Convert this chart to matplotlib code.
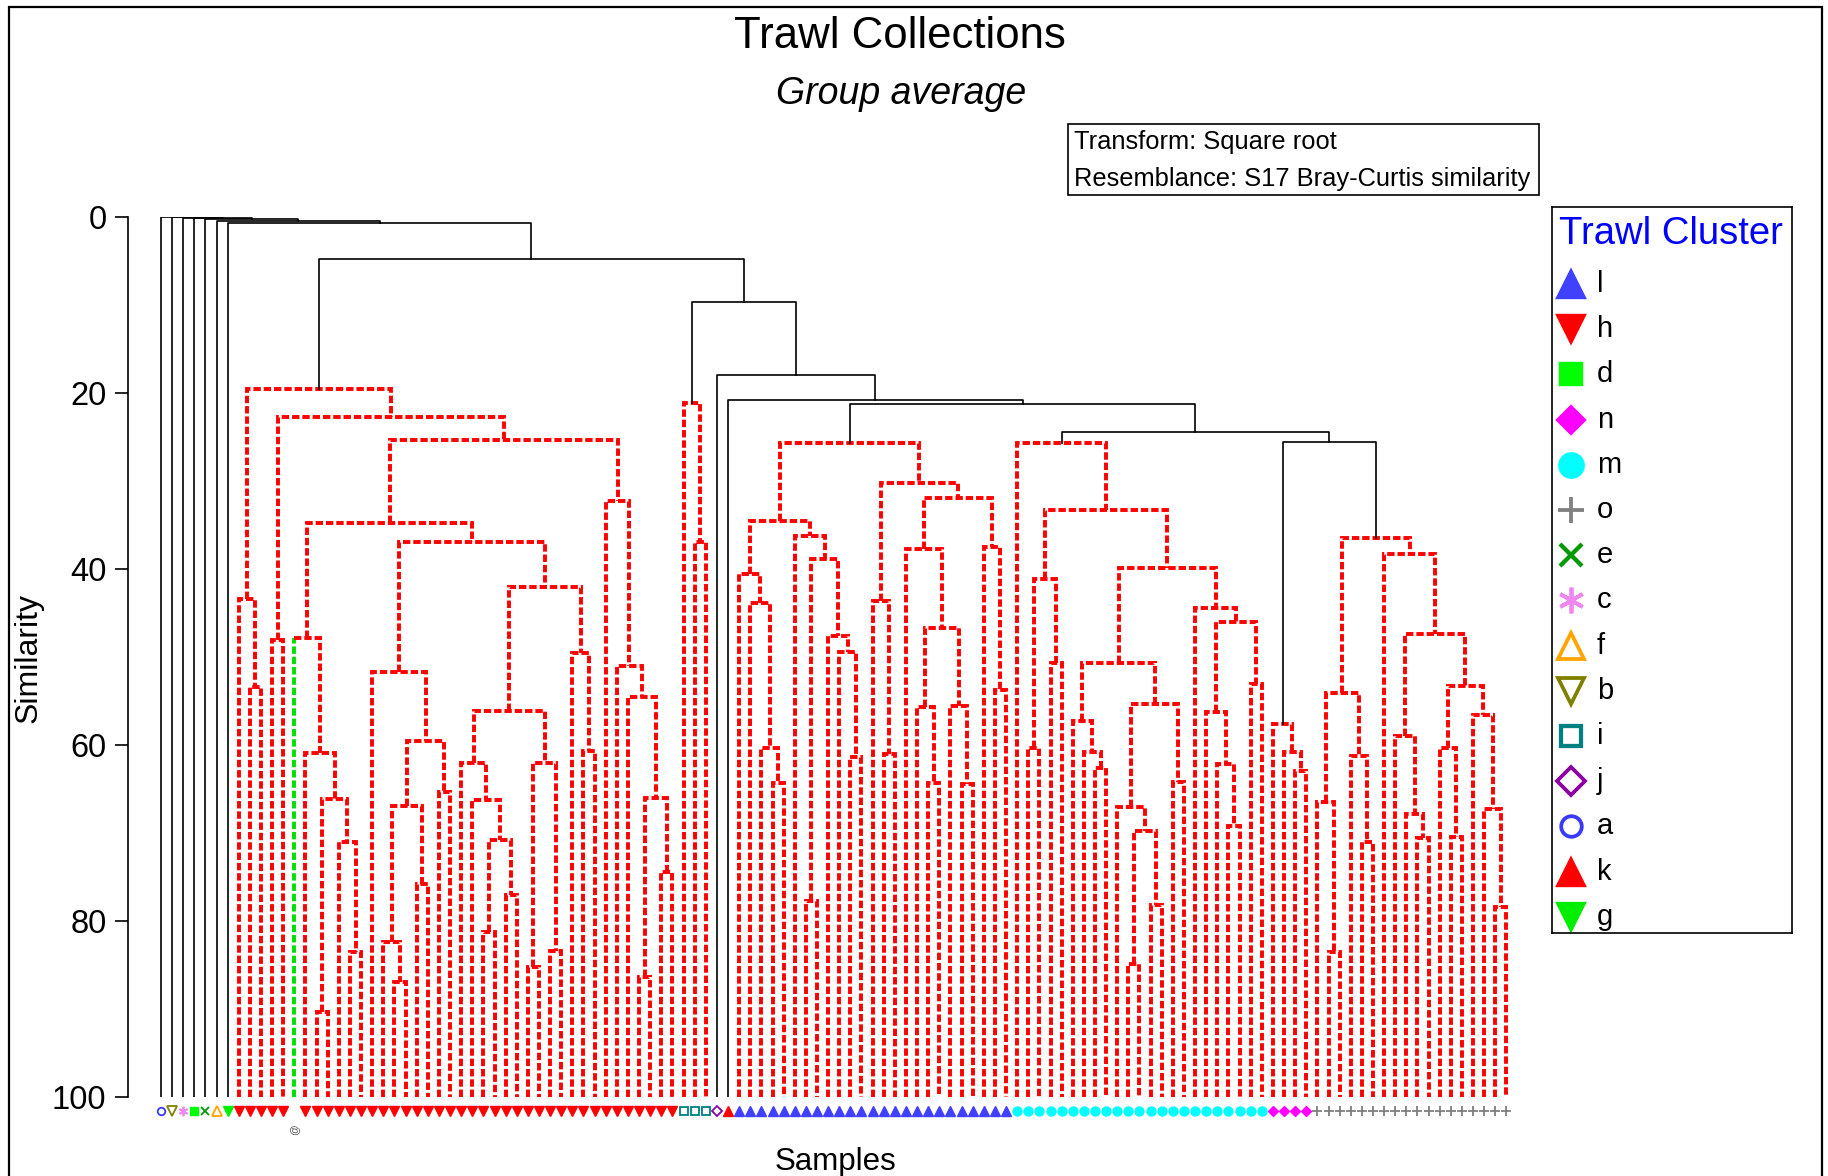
import matplotlib
matplotlib.use("Agg")
import matplotlib.pyplot as plt
from matplotlib.patches import Rectangle

plt.rcParams['font.family'] = ['Liberation Sans', 'DejaVu Sans']

W, H, DPI = 1828, 1176, 100

# Cluster code of every sample, in dendrogram leaf order ('?' = sample with no code)
SAMPLE_CLUSTERS = (
    "abcdefg"
    "hhhhh" "?"
    "hhhhhhhhhh" "hhhhhhhhhh" "hhhhhhhhhh" "hhhh"
    "iii" "j" "k"
    "llllllllll" "llllllllll" "lllll"
    "mmmmmmmmmm" "mmmmmmmmmm" "mmm"
    "nnnn"
    "oooooooooo" "oooooooo"
)
UNCODED_SAMPLE = 12          # drawn with a green branch
SOLID = "S"                  # marks merges drawn as solid black links

# Group-average dendrogram: (similarity, left, right[, SOLID]); ints are samples
TREE_A = (19.6,
          (43.4, 7, (53.4, 8, 9)),
          (22.8,
           (48.1, 10, 11),
           (25.4,
            (34.8,
             (47.9, 12, (60.9, 13, (66.2, (90.3, 14, 15),
                                     (71.0, 16, (83.5, 17, 18))))),
             (37.0,
              (51.7, 19, (59.6, (66.9, (82.4, 20, (86.9, 21, 22)),
                                 (75.8, 23, 24)),
                          (65.4, 25, 26))),
              (42.1,
               (56.2,
                (62.1, 27, (66.3, 28, (70.8, (81.3, 29, 30), (77.0, 31, 32)))),
                (62.1, (85.2, 33, 34), (83.4, 35, 36))),
               (49.6, 37, (60.7, 38, 39))))),
            (32.3, 40, (51.0, 41, (54.6, 42, (66.0, (86.4, 43, 44),
                                                (74.4, 45, 46))))))))

TREE_I = (21.2, 47, (37.0, 48, 49))

TREE_L = (25.7,
          (34.6,
           (40.6, 52, (43.9, 53, (60.4, 54, (64.3, 55, 56)))),
           (36.3, 57, (38.9, (77.7, 58, 59),
                       (47.6, 60, (49.4, 61, (61.4, 62, 63)))))),
          (30.3,
           (43.7, 64, (61.0, 65, 66)),
           (32.0,
            (37.7, 67, (46.7, (55.7, 68, (64.3, 69, 70)),
                        (55.6, 71, (64.4, 72, 73)))),
            (37.5, 74, (53.8, 75, 76)))))

TREE_M = (25.7, 77,
          (33.3,
           (41.1, (60.4, 78, 79), (50.7, 80, 81)),
           (39.9,
            (50.7,
             (57.3, 82, (60.8, 83, (62.6, 84, 85))),
             (55.4, (67.0, 86, (69.8, (84.9, 87, 88), (78.2, 89, 90))),
                    (64.2, 91, 92))),
            (44.4, 93, (46.0, (56.3, 94, (62.2, 95, (69.2, 96, 97))),
                        (53.1, 98, 99))))))

TREE_N = (57.6, 100, (60.8, 101, (63.0, 102, 103)))

TREE_O = (36.5,
          (54.1, (66.5, 104, (83.5, 105, 106)),
                 (61.3, 107, (71.0, 108, 109))),
          (38.3, 110,
           (47.4,
            (59.0, 111, (67.8, 112, (70.6, 113, 114))),
            (53.3,
             (60.4, 115, (70.5, 116, 117)),
             (56.6, 118, (67.3, 119, (78.4, 120, 121)))))))

TREE = (0.0, 0, (0.05, 1, (0.1, 2, (0.15, 3, (0.25, 4, (0.45, 5, (0.75, 6,
        (4.8, TREE_A,
         (9.7, TREE_I,
          (18.0, 50,
           (20.8, 51,
            (21.3, TREE_L,
             (24.5, TREE_M,
              (25.6, TREE_N, TREE_O, SOLID), SOLID), SOLID), SOLID), SOLID),
          SOLID), SOLID), SOLID), SOLID), SOLID), SOLID), SOLID), SOLID), SOLID)

Y_TICKS = [0, 20, 40, 60, 80, 100]

# Legend order and marker look of each cluster code
LEGEND_ORDER = ["l", "h", "d", "n", "m", "o", "e", "c", "f", "b", "i", "j", "a", "k", "g"]
CLUSTER_STYLE = {
    "a": dict(marker="o", mfc="none", mec="#3a3aff", mew=1.6, scale=0.8),
    "b": dict(marker="v", mfc="none", mec="#808000", mew=1.6, scale=1.0),
    "c": dict(marker=(6, 2, 0), mfc="#ee88ee", mec="#ee88ee", mew=1.6, scale=1.0),
    "d": dict(marker="s", mfc="#00ff00", mec="#00ff00", mew=1.0, scale=0.85),
    "e": dict(marker="x", mfc="#009a00", mec="#009a00", mew=1.8, scale=0.85),
    "f": dict(marker="^", mfc="none", mec="#ffa500", mew=1.6, scale=1.0),
    "g": dict(marker="v", mfc="#00ee00", mec="#00ee00", mew=1.0, scale=1.1),
    "h": dict(marker="v", mfc="#ff0000", mec="#ff0000", mew=1.0, scale=1.1),
    "i": dict(marker="s", mfc="none", mec="#008080", mew=1.8, scale=0.8),
    "j": dict(marker="D", mfc="none", mec="#8b00a0", mew=1.6, scale=0.75),
    "k": dict(marker="^", mfc="#ff0000", mec="#ff0000", mew=1.0, scale=1.1),
    "l": dict(marker="^", mfc="#4040ff", mec="#4040ff", mew=1.0, scale=1.1),
    "m": dict(marker="o", mfc="#00ffff", mec="#00ffff", mew=1.0, scale=0.95),
    "n": dict(marker="D", mfc="#ff00ff", mec="#ff00ff", mew=1.0, scale=0.75),
    "o": dict(marker="+", mfc="#808080", mec="#808080", mew=1.6, scale=1.0),
}

fig = plt.figure(figsize=(W / DPI, H / DPI), dpi=DPI)

# ---- main dendrogram axes (y = similarity, 0 at top) ----
ax_left, ax_right, ax_top, ax_bottom = 128, 1520, 216.7, 1097
leaf0_px, leaf_step_px = 160.9, 11.12
ax = fig.add_axes([ax_left / W, (H - ax_bottom) / H,
                   (ax_right - ax_left) / W, (ax_bottom - ax_top) / H])
ax.set_ylim(100, 0)
ax.set_xlim(-(leaf0_px - ax_left) / leaf_step_px, (ax_right - leaf0_px) / leaf_step_px)
for side in ("top", "right", "bottom"):
    ax.spines[side].set_visible(False)
ax.spines["left"].set_linewidth(1.2)
ax.set_xticks([])
ax.set_yticks(Y_TICKS)
ax.tick_params(axis="y", labelsize=23.5, length=9.5, width=1.2, pad=6)
ax.patch.set_alpha(0)

red_style = dict(color="#ff0000", lw=2.8, linestyle=(0, (1.9, 0.75)),
                 dash_capstyle="butt", dash_joinstyle="miter")
black_style = dict(color="black", lw=1.2)
green_style = dict(color="#00e000", lw=2.8, linestyle=(0, (1.9, 0.75)),
                   dash_capstyle="butt")


def draw(node):
    if isinstance(node, int):
        return float(node), 100.0
    sim, left, right = node[:3]
    style = black_style if len(node) > 3 else red_style
    xl, yl = draw(left)
    xr, yr = draw(right)
    if left == UNCODED_SAMPLE:
        ax.plot([xl, xl], [yl, sim], **green_style)
        ax.plot([xl, xr, xr], [sim, sim, yr], **style)
    else:
        ax.plot([xl, xl, xr, xr], [yl, sim, sim, yr], **style)
    return (xl + xr) / 2, sim


draw(TREE)

# sample symbols under the leaves
marker_y = 101.6
for code in LEGEND_ORDER:
    xs = [i for i, c in enumerate(SAMPLE_CLUSTERS) if c == code]
    st = dict(CLUSTER_STYLE[code])
    scale = st.pop("scale")
    mew = st.pop("mew")
    ax.plot(xs, [marker_y] * len(xs), linestyle="none", ms=6.8 * scale,
            mew=min(mew, 1.3), clip_on=False, **st)
ax.text(UNCODED_SAMPLE, 103.7, "@", rotation=90, fontsize=7.5, color="#555555",
        ha="center", va="center", clip_on=False)

# ---- titles and axis names ----
fig.text(900 / W, 1 - 36 / H, "Trawl Collections", fontsize=31.5,
         ha="center", va="center")
fig.text(901 / W, 1 - 94 / H, "Group average", fontsize=27, style="italic",
         ha="center", va="center")
fig.text(29 / W, 1 - 658 / H, "Similarity", fontsize=23, rotation=90,
         ha="center", va="center")
fig.text(835 / W, 1 - 1162 / H, "Samples", fontsize=22.5, ha="center", va="center")

# ---- method box ----
fig.add_artist(Rectangle((1068 / W, 1 - 195 / H), (1539 - 1068) / W, 71 / H,
                         transform=fig.transFigure, fill=False, lw=1.2,
                         edgecolor="black"))
fig.text(1074 / W, 1 - 142 / H, "Transform: Square root", fontsize=18.4,
         ha="left", va="center")
fig.text(1074 / W, 1 - 179 / H, "Resemblance: S17 Bray-Curtis similarity",
         fontsize=18.4, ha="left", va="center")

# ---- legend ----
lg_left, lg_top, lg_w, lg_h = 1552, 207, 240, 726
lax = fig.add_axes([lg_left / W, (H - lg_top - lg_h) / H, lg_w / W, lg_h / H])
lax.set_xlim(0, lg_w)
lax.set_ylim(lg_h, 0)
lax.set_xticks([])
lax.set_yticks([])
for sp in lax.spines.values():
    sp.set_linewidth(1.2)
lax.text(119, 27, "Trawl Cluster", fontsize=27.5, color="#0000ff",
         ha="center", va="center")
row0, row_step = 284 - lg_top, 45.2
for k, code in enumerate(LEGEND_ORDER):
    y = row0 + k * row_step
    st = dict(CLUSTER_STYLE[code])
    scale = st.pop("scale")
    mew = st.pop("mew")
    lax.plot([19], [y], linestyle="none", ms=18.5 * scale, mew=mew * 1.7, **st)
    lax.text(45, y, code, fontsize=21, ha="left", va="center")

# ---- outer frame (runs off the bottom edge) ----
fig.add_artist(Rectangle((9 / W, -0.05), (1822 - 9) / W, 1.05 - 7 / H,
                         transform=fig.transFigure, fill=False, lw=1.6,
                         edgecolor="black"))

fig.savefig("out.png", dpi=DPI)
